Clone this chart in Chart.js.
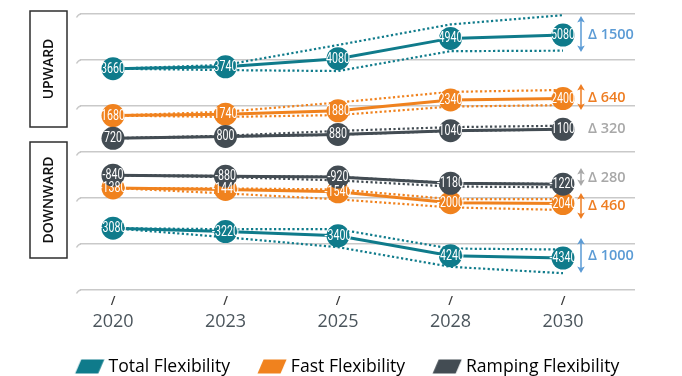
<!DOCTYPE html>
<html><head><meta charset="utf-8">
<script src="https://cdn.jsdelivr.net/npm/chart.js@4.4.1/dist/chart.umd.min.js"></script>
<style>html,body{margin:0;padding:0;background:#fff;}#wrap{width:682px;height:376px;}</style>
</head><body><div id="wrap"><canvas id="c" width="682" height="376"></canvas></div>
<script>
// ---------- data ----------
const categories = ['2020', '2023', '2025', '2028', '2030'];
const seriesNames = ['Total Flexibility', 'Fast Flexibility', 'Ramping Flexibility'];

const upTotal      = [3660, 3740, 4080, 4940, 5080];
const upTotalHigh  = [3660, 3820, 4660, 5530, 5920];
const upTotalLow   = [3660, 3600, 3560, 4400, 4420];

const upFast       = [1680, 1740, 1880, 2340, 2400];
const upFastHigh   = [1680, 1840, 2230, 2680, 2760];
const upFastLow    = [1680, 1620, 1700, 2060, 2120];

const upRamp       = [720, 800, 880, 1040, 1100];
const upRampHigh   = [720, 830, 1030, 1190, 1250];
const upRampLow    = [720, 790, 870, 1030, 1090];

const downRamp     = [-840, -880, -920, -1180, -1220];
const downRampHigh = [-840, -870, -910, -1170, -1210];
const downRampLow  = [-840, -920, -1060, -1320, -1350];

const downFast     = [-1380, -1440, -1540, -2000, -2040];
const downFastHigh = [-1380, -1400, -1440, -1850, -1850];
const downFastLow  = [-1380, -1610, -1860, -2200, -2310];

const downTotal     = [-3080, -3220, -3400, -4240, -4340];
const downTotalHigh = [-3080, -3120, -3120, -3940, -3980];
const downTotalLow  = [-3080, -3460, -3880, -4710, -4980];

const deltaLabels       = ['Δ 1500', 'Δ 640', 'Δ 320', 'Δ 280', 'Δ 460', 'Δ 1000'];
const deltaTextValues   = [5125, 2463, 1153, -917, -2100, -4212];
const deltaArrowTop     = [5885, 3012, null, -537, -1593, -3494];
const deltaArrowBottom  = [4364, 1914, null, -1297, -2691, -4973];
const deltaKinds        = ['total', 'fast', 'ramp', 'ramp', 'fast', 'total'];

const sideLabels = ['UPWARD', 'DOWNWARD'];

// ---------- styles ----------
const COL = { total: '#0f7b8b', fast: '#f0821e', ramp: '#434c53' };
const DELTA_COL = { total: '#5b9bd5', fast: '#ee7d22', ramp: '#a8a8a8' };
const GRID = '#c9c9c9';
const Y_MIN = -5690, Y_MAX = 5970;
const X_MIN = -0.2933, X_MAX = 4.64;

const pts = arr => arr.map((v, i) => ({ x: i, y: v }));
function solid(arr, kind, order) {
  return { data: pts(arr), isMain: true, kind, order,
    borderColor: COL[kind], backgroundColor: COL[kind], borderWidth: 3,
    pointRadius: 11.5, pointHoverRadius: 11.5, pointBackgroundColor: COL[kind], pointBorderWidth: 0,
    tension: 0, clip: false };
}
function dotted(arr, kind) {
  return { data: pts(arr), kind, order: 5,
    borderColor: COL[kind], borderWidth: 2.2, borderDash: [2.2, 2.4], borderCapStyle: 'butt',
    pointRadius: 0, pointHoverRadius: 0, tension: 0, clip: false };
}

const datasets = [
  solid(upRamp, 'ramp', 0), solid(downRamp, 'ramp', 0),
  solid(upFast, 'fast', 1), solid(downFast, 'fast', 1),
  solid(upTotal, 'total', 2), solid(downTotal, 'total', 2),
  dotted(upTotalHigh, 'total'), dotted(upTotalLow, 'total'),
  dotted(upFastHigh, 'fast'), dotted(upFastLow, 'fast'),
  dotted(upRampHigh, 'ramp'), dotted(upRampLow, 'ramp'),
  dotted(downRampHigh, 'ramp'), dotted(downRampLow, 'ramp'),
  dotted(downFastHigh, 'fast'), dotted(downFastLow, 'fast'),
  dotted(downTotalHigh, 'total'), dotted(downTotalLow, 'total')
];

// legend swatch: canvas centred on the legend box; the parallelogram sits on its right part
function swatch(color) {
  const c = document.createElement('canvas');
  c.width = 58; c.height = 15;
  const g = c.getContext('2d');
  g.fillStyle = color;
  g.beginPath();
  g.moveTo(34.5, 0.5); g.lineTo(57.5, 0.5); g.lineTo(51.5, 14.5); g.lineTo(28.5, 14.5);
  g.closePath(); g.fill();
  return c;
}
const legendKinds = ['total', 'fast', 'ramp'];

const intTicks = s => { s.ticks = categories.map((c, i) => ({ value: i })); };

// ---------- plugins ----------
const gridHooks = {
  id: 'gridHooks',
  beforeDatasetsDraw(chart) {
    const { ctx, chartArea } = chart;
    const ys = chart.scales.y;
    ctx.save();
    ctx.strokeStyle = GRID; ctx.lineWidth = 1.5;
    ys.ticks.forEach(t => {
      const y = ys.getPixelForValue(t.value);
      ctx.beginPath();
      ctx.moveTo(chartArea.left - 3.5, y + 3.5);
      ctx.quadraticCurveTo(chartArea.left - 1.5, y, chartArea.left + 1, y);
      ctx.stroke();
    });
    ctx.restore();
  }
};

const pointLabels = {
  id: 'pointLabels',
  afterDatasetsDraw(chart) {
    const { ctx } = chart;
    const idx = chart.data.datasets.map((d, i) => i).filter(i => chart.data.datasets[i].isMain);
    idx.sort((a, b) => chart.data.datasets[b].order - chart.data.datasets[a].order);
    ctx.save();
    ctx.fillStyle = '#ffffff';
    ctx.font = '14px Roboto';
    ctx.textAlign = 'center'; ctx.textBaseline = 'middle';
    idx.forEach(di => {
      const ds = chart.data.datasets[di];
      const meta = chart.getDatasetMeta(di);
      meta.data.forEach((p, i) => {
        ctx.save();
        ctx.translate(p.x, p.y + 0.5);
        ctx.scale(0.76, 1);
        ctx.fillText(String(ds.data[i].y), 0, 0);
        ctx.restore();
      });
    });
    ctx.restore();
  }
};

const decorations = {
  id: 'decorations',
  afterDraw(chart) {
    const { ctx, chartArea } = chart;
    const ys = chart.scales.y, xs = chart.scales.x;
    ctx.save();
    // side boxes
    const boxes = [[11, 127], [142, 258]];
    boxes.forEach((b, k) => {
      const x0 = chartArea.left - 50, w = 37;
      ctx.strokeStyle = '#2e2e2e'; ctx.lineWidth = 1.5;
      ctx.strokeRect(x0, b[0], w, b[1] - b[0]);
      ctx.save();
      ctx.translate(x0 + w / 2, (b[0] + b[1]) / 2);
      ctx.rotate(-Math.PI / 2);
      ctx.fillStyle = '#111';
      ctx.font = '600 14px "Open Sans"';
      ctx.textAlign = 'center'; ctx.textBaseline = 'middle';
      ctx.fillText(sideLabels[k], 0, 1);
      ctx.restore();
    });
    // deltas
    const ax = xs.getPixelForValue(categories.length - 1) + 18;
    deltaLabels.forEach((lab, k) => {
      const col = DELTA_COL[deltaKinds[k]];
      ctx.strokeStyle = col; ctx.fillStyle = col;
      if (deltaArrowTop[k] !== null) {
        const t = ys.getPixelForValue(deltaArrowTop[k]);
        const b = ys.getPixelForValue(deltaArrowBottom[k]);
        ctx.lineWidth = 1.5;
        ctx.beginPath(); ctx.moveTo(ax, t + 2); ctx.lineTo(ax, b - 2); ctx.stroke();
        ctx.beginPath();
        ctx.moveTo(ax, t); ctx.lineTo(ax - 3.8, t + 6.5); ctx.lineTo(ax, t + 5); ctx.lineTo(ax + 3.8, t + 6.5); ctx.closePath(); ctx.fill();
        ctx.beginPath();
        ctx.moveTo(ax, b); ctx.lineTo(ax - 3.8, b - 6.5); ctx.lineTo(ax, b - 5); ctx.lineTo(ax + 3.8, b - 6.5); ctx.closePath(); ctx.fill();
      }
      ctx.font = '600 14.5px "Open Sans"';
      ctx.textAlign = 'left'; ctx.textBaseline = 'middle';
      ctx.fillText(lab, ax + 7, ys.getPixelForValue(deltaTextValues[k]) + 1);
    });
    ctx.restore();
  }
};

new Chart(document.getElementById('c'), {
  type: 'line',
  data: { datasets },
  options: {
    responsive: false, animation: false, devicePixelRatio: 1,
    layout: { padding: { top: 14, left: 47.7, right: 0, bottom: -9.3 } },
    scales: {
      x: { type: 'linear', position: 'bottom', min: X_MIN, max: X_MAX, weight: 0,
        afterBuildTicks: intTicks,
        afterFit: s => { s.height = 20; },
        grid: { display: false, drawTicks: false }, border: { display: false },
        ticks: { autoSkip: false, maxRotation: 0, padding: 4.8, color: '#3a3a3a',
          font: { size: 12, family: '"Open Sans"', weight: '600' }, callback: () => '/' } },
      xYear: { type: 'linear', position: 'bottom', min: X_MIN, max: X_MAX, weight: 1,
        afterBuildTicks: intTicks,
        afterFit: s => { s.height = 43.7; },
        grid: { display: false, drawTicks: false }, border: { display: false },
        ticks: { autoSkip: false, maxRotation: 0, padding: 1.2, color: '#4b555c',
          font: { size: 18, family: '"Open Sans"' }, callback: v => categories[v] } },
      y: { type: 'linear', position: 'left', min: Y_MIN, max: Y_MAX,
        afterBuildTicks: s => { s.ticks = [0, 1, 2, 3, 4, 5, 6].map(i => ({ value: Y_MIN + i * (Y_MAX - Y_MIN) / 6 })); },
        afterFit: s => { s.width = 32.3; },
        grid: { color: GRID, lineWidth: 1.5, drawTicks: false }, border: { display: false },
        ticks: { display: false } },
      yR: { type: 'linear', position: 'right', min: 0, max: 1,
        afterFit: s => { s.width = 47; },
        grid: { display: false, drawTicks: false }, border: { display: false },
        ticks: { display: false } }
    },
    plugins: {
      tooltip: { enabled: false },
      legend: {
        position: 'bottom', align: 'start',
        labels: {
          padding: 4, usePointStyle: true, pointStyleWidth: 48,
          color: '#2e2e2e', font: { size: 17.6, family: '"Open Sans"' },
          generateLabels: () => seriesNames.map((n, i) => ({
            text: n, fillStyle: COL[legendKinds[i]], strokeStyle: COL[legendKinds[i]],
            lineWidth: 0, pointStyle: swatch(COL[legendKinds[i]]), hidden: false, datasetIndex: i
          }))
        },
        onClick: () => {}
      }
    }
  },
  plugins: [gridHooks, pointLabels, decorations]
});
</script></body></html>
